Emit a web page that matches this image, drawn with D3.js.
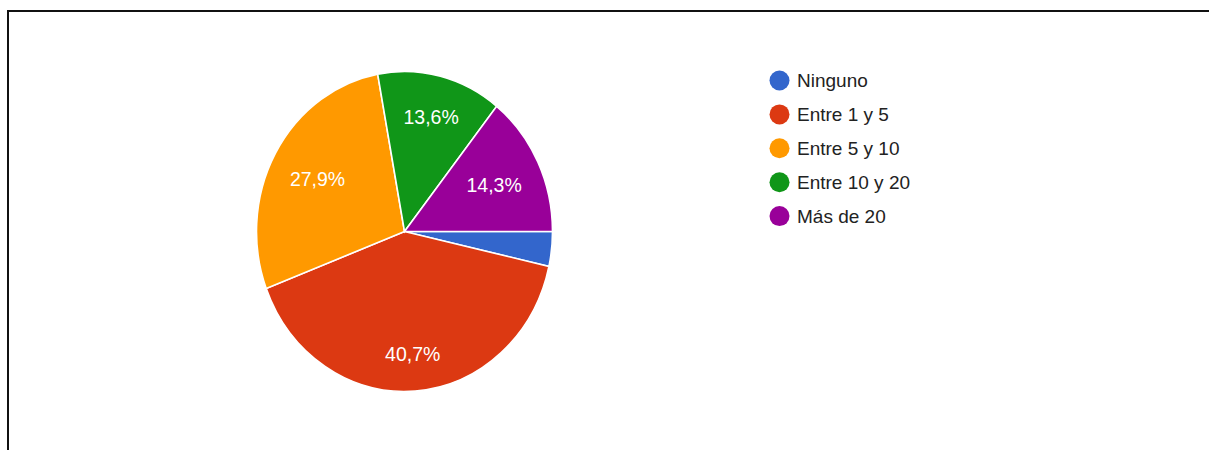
<!DOCTYPE html>
<html><head><meta charset="utf-8">
<script src="https://cdn.jsdelivr.net/npm/d3@7"></script>
<style>body{margin:0;background:#fff;}svg{display:block;font-family:Arial,"Liberation Sans",sans-serif;}</style>
</head><body>
<svg id="c" width="1209" height="450"></svg>
<script>
const categories = ["Ninguno", "Entre 1 y 5", "Entre 5 y 10", "Entre 10 y 20", "Más de 20"];
const values = [3.5, 40.7, 27.9, 13.6, 14.3];
const labels = ["", "40,7%", "27,9%", "13,6%", "14,3%"];
const colors = ["#3366cc", "#dc3912", "#ff9900", "#109618", "#990099"];

const svg = d3.select("#c");
// frame
svg.append("line").attr("x1",7).attr("x2",1209).attr("y1",11).attr("y2",11).attr("stroke","#111").attr("stroke-width",2);
svg.append("line").attr("x1",8).attr("x2",8).attr("y1",10).attr("y2",450).attr("stroke","#111").attr("stroke-width",2);

const cx = 404.5, cy = 231.5, R = 160, sx = 148/160;
const pie = d3.pie().value(d=>d).sort(null).startAngle(Math.PI/2).endAngle(Math.PI/2 + 2*Math.PI);
const arcs = pie(values);
const arc = d3.arc().innerRadius(0).outerRadius(R);
const g = svg.append("g").attr("transform",`translate(${cx},${cy}) scale(${sx},1)`);
g.selectAll("path").data(arcs).join("path")
  .attr("d", arc).attr("fill",(d,i)=>colors[i])
  .attr("stroke","#fff").attr("stroke-width",1.6).attr("vector-effect","non-scaling-stroke");

const lg = svg.append("g").attr("transform",`translate(${cx},${cy})`);
const fs = 19.5, Rl = 0.855*R;
arcs.forEach((d,i)=>{
  if(!labels[i]) return;
  const t = lg.append("text").text(labels[i]).attr("fill","#fff").attr("font-size",fs)
    .attr("text-anchor","middle").attr("dominant-baseline","central");
  const w = t.node().getComputedTextLength();
  const hw = w/2, hh = fs/2;
  const a = (d.startAngle+d.endAngle)/2;
  const ux = Math.abs(Math.sin(a)), uy = Math.abs(Math.cos(a));
  const A = 1, B = 2*(ux*hw+uy*hh), C = hw*hw+hh*hh-Rl*Rl;
  const tt = (-B + Math.sqrt(B*B-4*A*C))/(2*A);
  t.attr("x", tt*Math.sin(a)*sx).attr("y", -tt*Math.cos(a));
});

const leg = svg.append("g");
const y0 = 80.5, dy = 33.9;
categories.forEach((c,i)=>{
  leg.append("circle").attr("cx",779.5).attr("cy",y0+i*dy).attr("r",10).attr("fill",colors[i]);
  leg.append("text").attr("x",797).attr("y",y0+i*dy).attr("dominant-baseline","central")
    .attr("font-size",19).attr("fill","#222").text(c);
});
</script>
</body></html>
